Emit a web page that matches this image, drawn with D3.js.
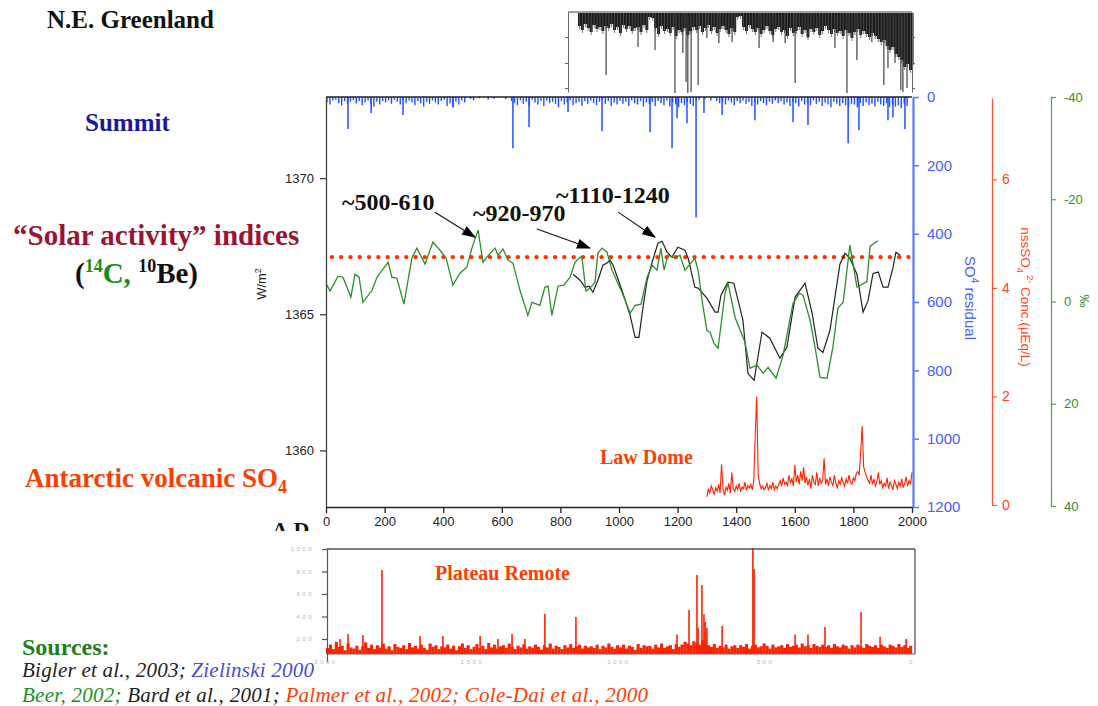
<!DOCTYPE html>
<html><head><meta charset="utf-8">
<script src="https://cdn.jsdelivr.net/npm/d3@7"></script>
<style>body{margin:0;background:#fff}svg{display:block}</style>
</head><body>
<svg id="chart" width="1098" height="706"></svg>
<script>
// ---------- DATA ----------
const xTicks = [0,200,400,600,800,1000,1200,1400,1600,1800,2000];
const wTicks = [1360,1365,1370];
const blueTicks = [0,200,400,600,800,1000,1200];
const redTicks = [0,2,4,6];
const greenTicks = [-40,-20,0,20,40];
const plateauTicks = [200,400,600,800,1000];
const plateauAgeTicks = [2000,1500,1000,500,0];

// Solar irradiance reconstructions (W/m2)
const greenYears=[0,3,14,41,58,85,99,113,126,157,174,212,225,242,266,293,310,338,365,389,410,433,457,481,498,519,536,549,577,587,604,621,638,662,689,703,730,747,758,771,792,812,833,850,867,874,887,901,918,928,942,959,976,1010,1038,1055,1075,1096,1113,1130,1143,1154,1167,1191,1208,1225,1242,1259,1270,1285,1300,1311,1324,1338,1362,1372,1396,1430,1447,1471,1492,1509,1536,1560,1594,1615,1628,1652,1669,1686,1710,1730,1747,1765,1778,1788,1812,1846,1857,1884];
const greenVals=[1366.1,1366.07,1365.85,1366.40,1366.36,1365.63,1366.47,1366.36,1365.44,1365.88,1366.36,1366.91,1366.36,1366.32,1365.37,1367.06,1367.43,1366.84,1367.65,1367.35,1367.06,1366.07,1366.51,1366.73,1367.43,1368.09,1366.91,1367.10,1367.43,1367.17,1367.40,1366.99,1366.88,1365.88,1364.96,1365.44,1365.33,1365.99,1366.03,1364.96,1366.03,1366.07,1366.36,1366.91,1367.10,1367.06,1365.85,1365.96,1366.18,1367.24,1367.43,1367.28,1366.62,1365.81,1365.04,1365.33,1365.37,1366.36,1366.80,1366.62,1367.43,1366.62,1367.17,1367.06,1367.17,1366.62,1366.84,1367.06,1366.6,1365.4,1364.4,1364.34,1363.93,1363.75,1365.77,1366.14,1364.89,1363.97,1363.01,1363.13,1362.83,1363.05,1362.65,1363.49,1365.40,1365.77,1365.70,1364.78,1363.79,1362.68,1362.65,1363.79,1365.22,1365.44,1366.62,1367.54,1366.0,1366.2,1367.5,1367.7];
const blackYears=[843,867,884,898,911,928,945,959,969,980,1010,1038,1055,1068,1082,1096,1113,1133,1147,1164,1181,1201,1225,1236,1259,1270,1300,1328,1338,1348,1372,1392,1409,1423,1440,1461,1474,1488,1515,1549,1573,1601,1635,1659,1679,1696,1720,1737,1754,1771,1788,1812,1833,1850,1867,1885,1901,1918,1935,1945,1960];
const blackVals=[1366.47,1366.25,1365.99,1366.03,1365.81,1366.25,1366.80,1366.88,1366.99,1366.80,1365.88,1364.96,1364.15,1364.15,1365.26,1366.25,1366.91,1367.61,1367.68,1367.28,1367.10,1367.46,1367.35,1367.06,1365.99,1365.96,1365.59,1365.08,1365.08,1365.70,1366.18,1366.14,1365.40,1364.78,1362.83,1362.57,1363.42,1364.34,1364.12,1363.38,1363.79,1365.63,1366.14,1365.04,1363.75,1363.60,1364.41,1365.63,1366.84,1367.24,1367.06,1366.47,1365.08,1365.5,1366.5,1366.55,1366.0,1366.0,1366.7,1367.28,1367.17];
const solarThreshold = 1367.1;

// Summit SO4 residual: 10-year bins from year 0, plus spikes
const blueStart = 0, blueStep = 10;
const blueBack=[15,22,10,8,18,25,12,20,14,9, 18,12,24,16,10,20,28,14,22,12, 16,10,20,8,14,22,12,18,10,15, 24,12,18,28,14,20,10,16,22,12, 8,26,18,30,14,22,10,16,0,6, 10,0,4,0,0,8,0,5,0,0, 0,6,0,12,18,24,10,20,14,28, 8,16,22,12,26,10,18,14,20,30, 12,22,16,10,24,18,14,26,12,20, 10,18,24,14,8,20,12,26,16,22, 12,20,14,26,10,18,22,12,28,16, 20,14,26,12,18,24,10,28,16,22, 30,18,24,14,20,26,12,8,0,6, 0,10,4,12,18,14,22,10,16,24, 12,18,10,20,14,26,16,22,12,18, 24,14,20,10,18,12,22,16,26,14, 18,28,12,22,16,24,10,20,14,26, 16,22,30,14,20,26,18,24,28,20, 22,30,18,26,16,24,20,28,14,22, 26,18,30,22,28,24,32,20,26,0];
const blueSpikeYears=[75,154,263,433,638,693,826,942,1106,1181,1198,1232,1263,1290,1352,1464,1594,1645,1782,1819,1918,1935,1976];
const blueSpikeVals=[94,47,53,30,150,88,44,100,103,150,62,77,353,47,53,68,73,82,135,97,68,59,94];

// N.E. Greenland record (depth of signal in panel units): 10-year bins from 860, plus spikes
const grStart = 860, grStep = 10;
const grBack=[14,18,12,16,20,13,17,15,19,14, 16,12,18,15,21,13,17,14,19,16, 15,20,13,18,5,6,16,22,14,19, 17,21,15,24,18,20,16,23,19,15, 18,14,20,16,13,19,15,21,17,14, 18,22,16,20,5,4,15,19,13,17, 20,16,22,18,14,19,23,17,15,20, 18,24,16,21,19,15,22,18,25,17, 20,16,23,19,14,18,22,17,21,19, 24,18,21,26,20,17,23,19,22,25, 21,24,27,30,28,34,38,35,42,45, 48,55,52,58,50];
const grSpikeYears=[956,1065,1123,1191,1218,1229,1235,1246,1270,1300,1341,1386,1478,1526,1567,1601,1645,1737,1778,1812,1863,1904,1918,1942,1962,1969,1983];
const grSpikeVals=[63,35,38,81,41,70,81,80,73,26,31,30,36,30,31,71,26,36,81,48,30,73,56,51,78,80,76];
const grFrameYears=[826,2000];

// Law Dome nssSO4 (µEq/L), 5-year steps from 1300
const ldStart = 1300, ldStep = 5;
const lawDome=[0.15,0.30,0.22,0.35,0.28,0.20,0.32,0.25,0.38,0.22, 0.75,0.30,0.18,0.33,0.27,0.40,0.22,0.60,0.30,0.25, 0.35,0.28,0.40,0.26,0.33,0.30,0.42,0.27,0.36,0.31, 0.38,0.28,0.45,1.30,2.00,0.55,0.40,0.30,0.35,0.28, 0.32,0.40,0.27,0.36,0.30,0.42,0.28,0.35,0.30,0.38, 0.45,0.35,0.50,0.38,0.42,0.36,0.55,0.40,0.48,0.35, 0.74,0.42,0.55,0.38,0.62,0.45,0.70,0.40,0.52,0.36, 0.48,0.30,0.55,0.42,0.38,0.60,0.35,0.50,0.40,0.45, 0.86,0.38,0.48,0.35,0.52,0.42,0.36,0.55,0.40,0.32, 0.45,0.38,0.50,0.42,0.35,0.48,0.40,0.55,0.42,0.38, 0.50,0.45,0.58,0.62,0.55,1.00,1.45,0.70,0.60,0.52, 0.45,0.40,0.55,0.38,0.48,0.35,0.42,0.60,0.38,0.45, 0.32,0.40,0.35,0.50,0.30,0.42,0.36,0.28,0.45,0.38, 0.30,0.42,0.35,0.48,0.32,0.40,0.52,0.35,0.45,0.38, 0.60];

// Plateau Remote: 10-year bins from year 0, plus spikes
const plStart = 0, plStep = 10;
const plBack=[120,150,110,175,130,140,100,160,125,115, 140,105,135,170,120,150,110,145,125,160, 115,135,100,155,130,120,145,110,165,125, 140,115,150,120,105,160,130,145,110,135, 125,150,115,140,100,135,160,120,145,110, 130,155,120,140,110,165,125,150,115,135, 145,120,160,130,110,140,125,155,115,135, 120,150,130,105,145,125,160,115,140,130, 110,145,125,155,120,135,150,115,140,125, 135,120,150,110,140,125,160,130,115,145, 125,150,115,140,130,105,155,120,145,135, 140,115,150,125,160,120,135,145,110,155, 130,150,175,160,145,180,165,150,190,170, 145,130,155,120,140,125,150,115,135,145, 120,145,130,155,115,140,150,125,135,160, 140,115,150,125,135,145,120,155,130,140, 150,125,160,135,145,120,155,140,130,150, 130,145,120,155,135,125,150,140,115,145, 125,150,135,120,155,140,130,145,120,150, 135,120,150,140,125,155,130,145,120,140];
const plSpikeYears=[48,75,126,191,321,399,526,587,635,679,747,853,1198,1239,1266,1270,1283,1290,1294,1300,1352,1457,1461,1601,1645,1703,1826,1891,1980];
const plSpikeVals=[200,245,236,813,227,227,227,200,245,200,423,396,240,458,769,300,680,420,351,300,316,1009,822,240,240,307,440,220,200];

// Annotations: [label, labelYear, labelValue, arrowFromYear, arrowFromValue, tipYear, tipValue]
const annotations=[
 ["~500-610",55,1368.82,372,1368.75,509,1367.83],
 ["~920-970",502,1368.42,720,1368.13,901,1367.43],
 ["~1110-1240",785,1369.08,997,1368.75,1123,1367.83]
];

// ---------- SCALES ----------
const svg=d3.select("#chart");
const x=d3.scaleLinear().domain([0,2000]).range([326,912]);
const yW=d3.scaleLinear().domain([1357.92,1372.98]).range([507,97]);
const yBlue=d3.scaleLinear().domain([0,1200]).range([97,507]);
const yRed=d3.scaleLinear().domain([0,7.5]).range([505,98]);
const yGreen=d3.scaleLinear().domain([-40,40]).range([97,506]);
const yGr=d3.scaleLinear().domain([0,80]).range([12,92]);
const yPl=d3.scaleLinear().domain([0,1000]).range([661.5,549]);
const xAge=d3.scaleLinear().domain([2000,0]).range([326,912]);
const plBaseY=654;

const SERIF='"Liberation Serif","Times New Roman",serif';
const SANS='"Liberation Sans",Arial,sans-serif';

// ---------- GREENLAND PANEL ----------
const gG=svg.append("g");
const grArea=d3.area().curve(d3.curveStepAfter)
 .x((d,i)=>x(grStart+i*grStep)).y0(yGr(1)).y1(d=>yGr(d));
gG.append("path").attr("d",grArea(grBack)).attr("fill","#1a1a1a");
gG.append("g").selectAll("line").data(grBack).join("line")
 .attr("x1",(d,i)=>x(grStart+i*grStep)+1.5).attr("x2",(d,i)=>x(grStart+i*grStep)+1.5)
 .attr("y1",yGr(1)).attr("y2",(d,i)=>yGr(d+3)).attr("stroke","#555").attr("stroke-width",0.8);
gG.append("g").selectAll("line.sp").data(grSpikeYears).join("line").attr("class","sp")
 .attr("x1",d=>x(d)).attr("x2",d=>x(d)).attr("y1",yGr(1)).attr("y2",(d,i)=>yGr(grSpikeVals[i]))
 .attr("stroke","#333").attr("stroke-width",1.1);
gG.append("line").attr("x1",x(grFrameYears[0])).attr("x2",x(grFrameYears[1])).attr("y1",yGr(0)).attr("y2",yGr(0)).attr("stroke","#444").attr("stroke-width",1.2);
const grAxL=gG.append("g").attr("transform",`translate(${x(grFrameYears[0])},0)`)
 .call(d3.axisLeft(yGr).tickValues([25,51,76]).tickSize(3).tickSizeOuter(0).tickFormat(""));
const grAxR=gG.append("g").attr("transform",`translate(${x(grFrameYears[1])},0)`)
 .call(d3.axisLeft(yGr).tickValues([25,51,76]).tickSize(-3).tickSizeOuter(0).tickFormat(""));
[grAxL,grAxR].forEach(a=>{a.selectAll("path,line").attr("stroke","#666");});

// ---------- MAIN PANEL ----------
const gB=svg.append("g");
gB.selectAll("line.bg").data(blueBack).join("line").attr("class","bg")
 .attr("x1",(d,i)=>x(blueStart+i*blueStep)+1).attr("x2",(d,i)=>x(blueStart+i*blueStep)+1)
 .attr("y1",yBlue(0)).attr("y2",d=>yBlue(d)).attr("stroke","#1f4fff").attr("stroke-width",1.4);
gB.selectAll("line.sp").data(blueSpikeYears).join("line").attr("class","sp")
 .attr("x1",d=>x(d)).attr("x2",d=>x(d)).attr("y1",yBlue(0)).attr("y2",(d,i)=>yBlue(blueSpikeVals[i]))
 .attr("stroke","#1f4fff").attr("stroke-width",1.5);

svg.append("line").attr("x1",x(20)).attr("x2",x(2000)).attr("y1",yW(solarThreshold)).attr("y2",yW(solarThreshold))
 .attr("stroke","#ff3300").attr("stroke-width",4.4).attr("stroke-linecap","round").attr("stroke-dasharray","0 9.3");

const ldLine=d3.line().x((d,i)=>x(ldStart+i*ldStep)).y(d=>yRed(d));
svg.append("path").attr("d",ldLine(lawDome)).attr("fill","none").attr("stroke","#ff2200").attr("stroke-width",1.1);

const wLine=d3.line().x(d=>x(d[0])).y(d=>yW(d[1]));
svg.append("path").attr("d",wLine(blackYears.map((y,i)=>[y,blackVals[i]]))).attr("fill","none").attr("stroke","#222").attr("stroke-width",1.2);
svg.append("path").attr("d",wLine(greenYears.map((y,i)=>[y,greenVals[i]]))).attr("fill","none").attr("stroke","#2b8f2b").attr("stroke-width",1.3);

const defs=svg.append("defs");
defs.append("marker").attr("id","ah").attr("viewBox","0 0 14 10").attr("refX",13).attr("refY",5)
 .attr("markerWidth",14).attr("markerHeight",10).attr("markerUnits","userSpaceOnUse").attr("orient","auto")
 .append("path").attr("d","M0,0 L14,5 L0,10 Z").attr("fill","#000");
annotations.forEach(a=>{
  svg.append("text").attr("x",x(a[1])).attr("y",yW(a[2])).text(a[0])
   .attr("font-family",SERIF).attr("font-weight","bold").attr("font-size",24).attr("fill","#111");
  svg.append("line").attr("x1",x(a[3])).attr("y1",yW(a[4])).attr("x2",x(a[5])).attr("y2",yW(a[6]))
   .attr("stroke","#111").attr("stroke-width",1.1).attr("marker-end","url(#ah)");
});

svg.append("line").attr("x1",x(0)).attr("x2",x(2000)).attr("y1",yW.range()[1]).attr("y2",yW.range()[1]).attr("stroke","#222").attr("stroke-width",1.3);

const axL=svg.append("g").attr("transform",`translate(${x(0)},0)`)
 .call(d3.axisLeft(yW).tickValues(wTicks).tickSize(6).tickSizeOuter(0).tickPadding(6).tickFormat(d3.format("d")));
axL.selectAll("path,line").attr("stroke","#444").attr("stroke-width",1.3);
axL.selectAll("text").attr("font-family",SANS).attr("font-size",13).attr("fill","#222");

const axB=svg.append("g").attr("transform",`translate(0,${yW.range()[0]})`)
 .call(d3.axisBottom(x).tickValues(xTicks).tickSize(6).tickSizeOuter(0).tickPadding(4).tickFormat(d3.format("d")));
axB.selectAll("path,line").attr("stroke","#222").attr("stroke-width",1.3);
axB.selectAll("text").attr("font-family",SANS).attr("font-size",13).attr("fill","#222");

const axBl=svg.append("g").attr("transform",`translate(${x(2000)+1},0)`)
 .call(d3.axisRight(yBlue).tickValues(blueTicks).tickSize(6).tickSizeOuter(0).tickPadding(8).tickFormat(d3.format("d")));
axBl.selectAll("path").attr("stroke","#5b7bff").attr("stroke-width",2.2);
axBl.selectAll("line").attr("stroke","#5b7bff").attr("stroke-width",1.5);
axBl.selectAll("text").attr("font-family",SANS).attr("font-size",15).attr("fill","#3f5fff");

const axR=svg.append("g").attr("transform","translate(992,0)")
 .call(d3.axisRight(yRed).tickValues(redTicks).tickSize(5).tickSizeOuter(0).tickPadding(5));
axR.selectAll("path,line").attr("stroke","#ff5533").attr("stroke-width",1.2);
axR.selectAll("text").attr("font-family",SANS).attr("font-size",14).attr("fill","#ff4422");

const axGn=svg.append("g").attr("transform","translate(1051,0)")
 .call(d3.axisRight(yGreen).tickValues(greenTicks).tickSize(5).tickSizeOuter(0).tickPadding(8).tickFormat(d=>String(d)));
axGn.selectAll("path,line").attr("stroke","#4ea24e").attr("stroke-width",1.2);
axGn.selectAll("text").attr("font-family",SANS).attr("font-size",13).attr("fill","#2f8f2f");

const tW=svg.append("text").attr("transform","translate(266,284) rotate(-90)").attr("text-anchor","middle")
 .attr("font-family",SANS).attr("font-size",13).attr("fill","#222");
tW.append("tspan").text("W/m");
tW.append("tspan").attr("font-size",9).attr("dy",-5).text("2");

const tB=svg.append("text").attr("transform","translate(965,298) rotate(90)").attr("text-anchor","middle")
 .attr("font-family",SANS).attr("font-size",15).attr("fill","#3f5fff");
tB.append("tspan").text("SO");
tB.append("tspan").attr("font-size",10).attr("dy",-6).text("4");
tB.append("tspan").attr("dy",6).text(" residual");

const tR=svg.append("text").attr("transform","translate(1021,297) rotate(90)").attr("text-anchor","middle")
 .attr("font-family",SANS).attr("font-size",13.5).attr("fill","#ff4422");
tR.append("tspan").text("nssSO");
tR.append("tspan").attr("font-size",9).attr("dy",4).text("4");
tR.append("tspan").attr("font-size",9).attr("dy",-10).text(" 2-");
tR.append("tspan").attr("dy",6).text(" Conc.(\u03BCEq/L)");

svg.append("text").attr("transform","translate(1080,301) rotate(90)").attr("text-anchor","middle")
 .attr("font-family",SANS).attr("font-size",13).attr("fill","#2f8f2f").text("\u2030");

// ---------- PLATEAU REMOTE PANEL ----------
const gP=svg.append("g");
gP.selectAll("rect").data(plBack).join("rect")
 .attr("x",(d,i)=>x(plStart+i*plStep)).attr("width",(x(plStep)-x(0))+0.2)
 .attr("y",d=>yPl(d)).attr("height",d=>plBaseY-yPl(d)).attr("fill","#ff2200");
gP.selectAll("line.sp").data(plSpikeYears).join("line").attr("class","sp")
 .attr("x1",d=>x(d)).attr("x2",d=>x(d)).attr("y1",plBaseY).attr("y2",(d,i)=>yPl(plSpikeVals[i]))
 .attr("stroke","#ff2200").attr("stroke-width",1.6);
gP.append("line").attr("x1",x(0)+1).attr("x2",x(2000)+3).attr("y1",yPl(1000)).attr("y2",yPl(1000)).attr("stroke","#555").attr("stroke-width",1.3);
gP.append("line").attr("x1",x(2000)+3).attr("x2",x(2000)+3).attr("y1",yPl(1000)).attr("y2",plBaseY).attr("stroke","#555").attr("stroke-width",1.3);
gP.append("line").attr("x1",x(0)+1).attr("x2",x(2000)+3).attr("y1",plBaseY).attr("y2",plBaseY).attr("stroke","#666").attr("stroke-width",1);
const axP=gP.append("g").attr("transform",`translate(${x(0)+1},0)`)
 .call(d3.axisLeft(yPl).tickValues(plateauTicks).tickSize(5).tickSizeOuter(0).tickPadding(8).tickFormat(d3.format("d")));
axP.selectAll("path,line").attr("stroke","#555").attr("stroke-width",1.2);
axP.selectAll("text").attr("font-family",SANS).attr("font-size",6).attr("letter-spacing",2.5).attr("fill","#b8b8b8");
gP.append("g").selectAll("text").data(plateauAgeTicks).join("text")
 .attr("x",d=>xAge(d)).attr("y",664).attr("text-anchor","middle").text(d=>d)
 .attr("font-family",SANS).attr("font-size",6).attr("letter-spacing",2.5).attr("fill","#b8b8b8");

// ---------- TEXT LABELS ----------
function lab(t,xx,yy,size,fill){
  const e=svg.append("text").attr("x",xx).attr("y",yy).attr("font-family",SERIF).attr("font-weight","bold")
   .attr("font-size",size).attr("fill",fill);
  if(t) e.text(t);
  return e;
}
lab("N.E. Greenland",47,28,25,"#111");
lab("Summit",85,131,25,"#1a1a9a");
lab("\u201CSolar activity\u201D indices",13,245,29,"#9a1535");
const sc=lab(null,75,283,29,"#111");
sc.append("tspan").text("(");
sc.append("tspan").attr("fill","#1a8a1a").attr("font-size",18).attr("dy",-11).text("14");
sc.append("tspan").attr("fill","#1a8a1a").attr("dy",11).text("C,");
sc.append("tspan").text(" ");
sc.append("tspan").attr("font-size",18).attr("dy",-11).text("10");
sc.append("tspan").attr("dy",11).text("Be)");
const av=lab(null,25,487,27,"#ff3d00");
av.append("tspan").text("Antarctic volcanic SO");
av.append("tspan").attr("font-size",18).attr("dy",6).text("4");
lab("Law Dome",600,464,20,"#ff3d00");
lab("Plateau Remote",435,580,20,"#ff3d00");

defs.append("clipPath").attr("id","adclip").append("rect").attr("x",250).attr("y",500).attr("width",80).attr("height",31);
lab("A.D.",272,537,22,"#111").attr("clip-path","url(#adclip)");

lab("Sources:",22,655,24,"#1f7f1f");
const s1=svg.append("text").attr("x",22).attr("y",677).attr("font-family",SERIF).attr("font-style","italic")
 .attr("font-size",21).attr("textLength",292).attr("lengthAdjust","spacing");
s1.append("tspan").attr("fill","#222").text("Bigler et al., 2003; ");
s1.append("tspan").attr("fill","#4a4ad8").text("Zielinski 2000");
const s2=svg.append("text").attr("x",22).attr("y",702).attr("font-family",SERIF).attr("font-style","italic")
 .attr("font-size",21).attr("textLength",626).attr("lengthAdjust","spacing");
s2.append("tspan").attr("fill","#1f8f1f").text("Beer, 2002; ");
s2.append("tspan").attr("fill","#222").text("Bard et al., 2001; ");
s2.append("tspan").attr("fill","#ff3d00").text("Palmer et al., 2002; Cole-Dai et al., 2000");
</script>
</body></html>
